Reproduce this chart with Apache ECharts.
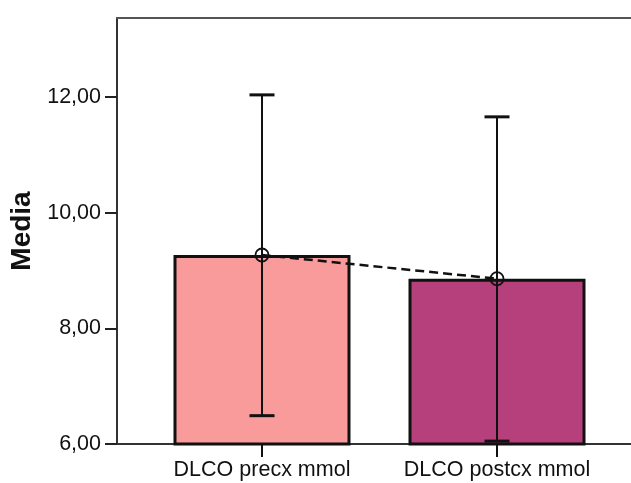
<!DOCTYPE html>
<html>
<head>
<meta charset="utf-8">
<style>
  html, body { margin: 0; padding: 0; background: #fff; }
  #chart { width: 631px; height: 483px; }
</style>
<script src="https://cdn.jsdelivr.net/npm/echarts@6/dist/echarts.min.js"></script>
</head>
<body>
<div id="chart"></div>
<script>
// Mean DLCO (mmol) before and after surgery, with error bars
const categories = ['DLCO precx mmol', 'DLCO postcx mmol'];
const means = [9.27, 8.86];
const lower = [6.49, 6.05];
const upper = [12.04, 11.66];
const barColors = ['#F99B9A', '#B5407C'];
const yTicks = [6, 8, 10, 12];

// categories sit at x = 1, 2 on a numeric axis
const catPos = categories.map((c, i) => i + 1);

const fmt = v => v.toFixed(2).replace('.', ',');
const FONT = '"Liberation Sans", Arial, sans-serif';

const chart = echarts.init(document.getElementById('chart'));

chart.setOption({
  animation: false,
  backgroundColor: '#fff',
  grid: { left: 117, right: -20, top: 18, bottom: 39, containLabel: false, outerBoundsMode: 'none' },
  xAxis: [
    {
      type: 'value',
      min: 0.383,
      max: 2.6553,
      position: 'bottom',
      splitLine: { show: false },
      axisLine: { show: true, lineStyle: { color: '#333', width: 2 } },
      axisTick: { show: true, length: 13, customValues: catPos, lineStyle: { color: '#111', width: 2 } },
      axisLabel: {
        customValues: catPos,
        margin: 15,
        color: '#111',
        fontFamily: FONT,
        fontSize: 21.5,
        formatter: v => categories[Math.round(v) - 1] || ''
      }
    },
    {
      // top frame line
      type: 'value',
      min: 0.383,
      max: 2.6553,
      position: 'top',
      splitLine: { show: false },
      axisLine: { show: true, lineStyle: { color: '#555', width: 2 } },
      axisTick: { show: false },
      axisLabel: { show: false }
    }
  ],
  yAxis: {
    type: 'value',
    min: 6,
    max: 13.37,
    interval: 2,
    name: 'Media',
    nameLocation: 'middle',
    nameRotate: 90,
    nameGap: 78,
    nameTextStyle: { fontFamily: FONT, fontSize: 28, fontWeight: 'bold', color: '#111' },
    splitLine: { show: false },
    axisLine: { show: true, lineStyle: { color: '#333', width: 2 } },
    axisTick: { show: true, length: 12, customValues: yTicks, lineStyle: { color: '#222', width: 2 } },
    axisLabel: {
      customValues: yTicks,
      margin: 16,
      color: '#111',
      fontFamily: FONT,
      fontSize: 21.5,
      formatter: v => fmt(v)
    }
  },
  series: [
    {
      type: 'bar',
      barWidth: 177,
      z: 2,
      data: means.map((m, i) => ({
        value: [catPos[i], m],
        itemStyle: { color: barColors[i], borderColor: '#111', borderWidth: 3 }
      }))
    },
    {
      type: 'line',
      z: 3,
      data: means.map((m, i) => [catPos[i], m]),
      symbol: 'circle',
      symbolSize: 13,
      itemStyle: { color: 'rgba(0,0,0,0)', borderColor: '#111', borderWidth: 1.8 },
      lineStyle: { color: '#111', width: 2.5, type: [9, 5] }
    },
    {
      type: 'custom',
      z: 4,
      data: catPos.map((x, i) => [x, lower[i], upper[i]]),
      renderItem: (params, api) => {
        const lo = api.coord([api.value(0), api.value(1)]);
        const hi = api.coord([api.value(0), api.value(2)]);
        const half = 12.5;
        const style = { stroke: '#111', lineWidth: 2 };
        return {
          type: 'group',
          children: [
            { type: 'line', shape: { x1: hi[0], y1: hi[1], x2: lo[0], y2: lo[1] }, style },
            { type: 'line', shape: { x1: hi[0] - half, y1: hi[1], x2: hi[0] + half, y2: hi[1] }, style: { stroke: '#111', lineWidth: 3 } },
            { type: 'line', shape: { x1: lo[0] - half, y1: lo[1], x2: lo[0] + half, y2: lo[1] }, style: { stroke: '#111', lineWidth: 3 } }
          ]
        };
      }
    }
  ]
});
</script>
</body>
</html>
